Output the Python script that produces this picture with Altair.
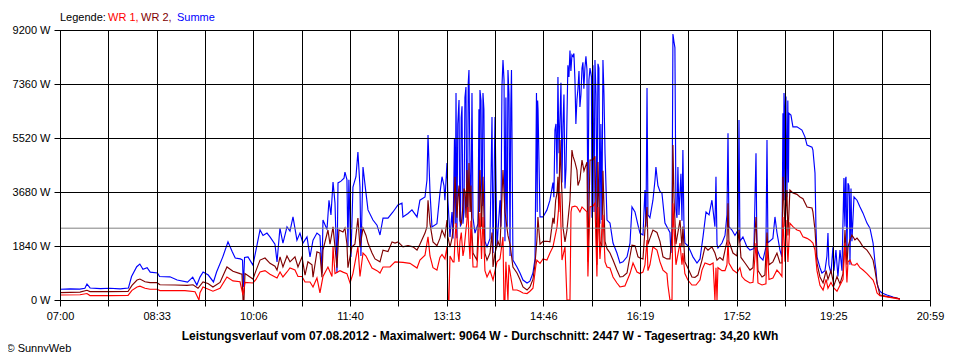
import altair as alt
import pandas as pd

# ---------------- data ----------------
series_names = ["WR 1", "WR 2", "Summe"]
series_colors = ["#ff0000", "#800000", "#0000ff"]
x_labels = ["07:00", "08:33", "10:06", "11:40", "13:13", "14:46", "16:19", "17:52", "19:25", "20:59"]
y_ticks = [0, 1840, 3680, 5520, 7360, 9200]
average_w = 2447
title_text = ("Leistungsverlauf vom 07.08.2012 - Maximalwert: 9064 W - "
              "Durchschnitt: 2447 W - Tagesertrag: 34,20 kWh")
copyright_text = "\u00a9 SunnyWeb"

# (minutes after 07:00, W)
summe = [
(0,365),(10,380),(19,370),(24,400),(26,545),(29,410),(39,390),(48,400),(58,380),(66,410),(69,800),(74,1135),(77,1225),(80,1050),(84,1100),(87,950),(94,920),(96,800),(106,790),(113,680),(123,610),(128,780),(132,510),(135,780),(138,955),(143,850),(148,615),(151,955),(157,1470),(162,1980),(166,1650),(169,1430),(174,1400),(176,1360),(176.8,440),(178,1450),(181.3,1470),(186.1,1190),(189,1700),(192.9,2385),(195.8,2200),(199.6,2280),(202.5,2150),(207.3,1900),(209.3,1300),(212.1,2450),(215,1940),(218.9,2490),(221.8,2350),(224.7,2830),(228.5,2040),(231.4,2280),(234.3,1940),(238.2,2150),(241.1,1470),(244,2040),(247.8,2280),(250.7,2200),(252.6,920),(253.6,2725),(257.5,2400),(259.4,3400),(261.3,2900),(263.3,4020),(265.2,3300),(267.1,920),(268.1,3990),(271,4050),(273.9,4150),(274.8,4360),(276.7,4100),(277.7,1800),(278.6,4100),(280.6,1470),(282.5,3850),(285.4,4200),(287.3,5040),(289.3,3850),(290.2,1500),(292.2,4530),(295.1,3640),(297,3070),(301.8,2725),(305.7,2550),(308.6,2215),(311.5,2790),(316.3,2790),(321.1,3000),(325.9,3240),(329.8,3300),(330.7,2830),(335.6,2950),(339.4,3070),(344.3,2830),(347.1,3400),(352,3510),(353.9,4090),(354.9,5620),(356.8,3700),(358.7,2490),(363.5,2600),(366.4,3640),(368.4,4200),(370.3,3900),(371.2,3400),(373.2,4670),(374.1,3400),(376.1,2150),(378,3000),(379,2100),(381.9,7050),(382.8,2100),(384.8,6815),(386.2,2500),(387.7,6600),(389.6,3000),(391.5,7260),(393,2800),(394.4,7840),(395.4,4350),(397.3,7050),(398.3,2800),(400.2,2280),(403.1,2600),(405,7155),(406.5,4000),(407.9,7050),(409.8,2000),(411.8,1810),(414.7,2100),(416.6,6235),(417.6,1600),(419.5,6235),(421.4,1800),(424.3,3400),(426.2,7260),(427.2,8180),(429.1,2000),(430.6,3400),(432,7840),(434,1500),(435.4,7840),(436.8,1360),(440.7,1125),(443.6,920),(446.5,680),(450.4,580),(453.2,640),(456.1,920),(458.1,1400),(459.5,7050),(461,6500),(462.9,2830),(465.8,2830),(469.6,3070),(472.5,3400),(475.4,4000),(477.3,5790),(479.3,4300),(480.2,7600),(482.2,6200),(484.1,4000),(485,5900),(487,3800),(488.9,6200),(489.8,8000),(491.8,8500),(493.7,8350),(494.7,8300),(496.6,7500),(498.5,6815),(499.5,7200),(501.4,6580),(503.4,7900),(504.3,8100),(506.2,7900),(508.2,7840),(509.1,2500),(511.1,7900),(514,8000),(515.9,8180),(517.8,2725),(518.8,8050),(520.7,2600),(522.6,2725),(523.6,8180),(525.6,5000),(527.5,2725),(530.4,2620),(533.3,1940),(537.1,1600),(540,1260),(542.9,1300),(546.8,1470),(549.7,1940),(551.6,3170),(554.5,3000),(557.4,2555),(559.3,2280),(562.2,2215),(564.1,3750),(565.1,2500),(566.1,7220),(567,2900),(568.9,2800),(571.8,3400),(573.8,4090),(574.7,4530),(576.6,3900),(578.6,3700),(580.5,3640),(583.4,2620),(588.2,2300),(589.2,1600),(590.2,2400),(591.1,9064),(592.1,8800),(593,8600),(594,3100),(595,2800),(595.9,4530),(596.9,2900),(598.8,4300),(599.8,2700),(600.7,5110),(601.7,2600),(602.6,1940),(605.5,1850),(607.5,1700),(610.4,1470),(614.3,1260),(617.2,1400),(620.1,2150),(623,3000),(625.9,2900),(628.7,3400),(631.6,2500),(632.6,4200),(633.6,1900),(634.5,1770),(638.4,1940),(641.3,2200),(643.2,2900),(644.2,5680),(645.1,2500),(648,2385),(650.9,2200),(653.9,2385),(654.8,6130),(655.7,2000),(658.6,2150),(662.5,1810),(665.4,1700),(669.2,1750),(671.2,5000),(672.1,1750),(675,1470),(677.9,1360),(680.8,1800),(681.8,5450),(682.7,1950),(687.5,2100),(689.5,2830),(691.4,2300),(694.3,1700),(696.2,1470),(697.2,6360),(698.2,7050),(699.1,3400),(700.1,6930),(701,3500),(703,6360),(704.9,6300),(706.8,5900),(710.7,5900),(715.5,5790),(718.4,5560),(720.4,5280),(725.2,5210),(726.1,5110),(728.1,4330),(729,2500),(730,1470),(732.9,1100),(734.8,920),(737.7,1000),(739.6,1500),(740.6,2280),(741.5,1200),(743.5,900),(745.4,1800),(746.4,1000),(748.3,1700),(750.2,800),(752.2,1700),(754.1,1000),(756,4160),(757,2500),(758,4200),(758.9,1500),(759.9,3980),(760.8,3900),(761.8,1200),(762.8,3800),(763.7,2000),(765.7,3510),(768.6,3400),(771.5,3170),(774.4,2960),(776.3,2790),(778.2,2620),(781.1,2450),(784.1,1940),(786,1260),(786.9,1020),(787.9,580),(788.9,445),(790.7,300),(792.7,240),(797.5,170),(803.3,100),(810,35)
]
# extra readings inside the densely filled (rapidly switching) stretches
summe_dense = [
(380.4,5500),(381.2,2600),(383.6,6000),(385.5,3000),(386.9,6200),(388.6,2600),(390.5,6900),(392.2,3200),(393.7,7400),(396.3,3000),
(404,6500),(404.5,3000),(406,6800),(407.2,3200),(408.8,6500),
(425.2,2500),(428.2,7500),(430,6900),(431.3,2500),(433,7000),(434.7,6500),
(460.2,3000),(460.6,6800),
(476.3,3500),(478.3,6000),(481.2,5000),(483.1,7400),(486,7000),(488,4500),(490.8,7600),(492.7,7800),(495.6,8400),(497.5,6000),(500.5,7800),(502.4,7000),(505.2,7200),(507.2,8300),(510.1,7500),(512.5,7600),(513,2800),(513.5,7800),(515,3000),(516.9,7000),(519.7,7900),(521.6,6000),(524.6,7000),
(697.7,3500),(698.7,6500),(699.6,5000),(701.9,6800),(702.5,4000),
(756.5,3000),(757.5,4100),(761.3,3500)
]

wr2 = [
(0,250),(19.3,270),(26,330),(28.9,285),(48.2,285),(65.6,290),(69.4,500),(74.3,680),(77.1,715),(82,620),(86.8,590),(93.5,590),(96.4,520),(110.9,510),(122.5,500),(128.3,520),(133.1,400),(137.9,615),(142.7,560),(147.5,440),(154.3,600),(161,1125),(166.8,980),(173.6,900),(175.5,880),(176.5,0),(177.4,0),(178.4,900),(186.1,715),(189,1000),(192.9,1360),(197.7,1430),(202.5,1250),(207.3,1150),(209.3,1020),(212.2,1470),(215,1125),(218.9,1500),(221.8,1300),(226.6,1470),(229.5,1125),(233.4,1470),(236.3,850),(239.1,1300),(243,1200),(244,780),(247.8,1640),(250.7,1600),(252.6,780),(253.6,1700),(258.4,2385),(260.4,1900),(263.3,2490),(265.2,1800),(267.1,1100),(269,2385),(272.9,2320),(274.8,2450),(276.7,1900),(277.7,1100),(281.5,1810),(284.4,1900),(287.3,2790),(289.3,1800),(292.2,2450),(295.1,2200),(297,1940),(300.9,1600),(303.8,1400),(308.6,1300),(311.5,1700),(316.3,1650),(320.2,1980),(323.1,1940),(326,1980),(330.8,1810),(335.6,1850),(340.4,1810),(344.3,1700),(347.1,1900),(352,2280),(353.9,2500),(354.9,3400),(356.8,2600),(359.7,1980),(363.5,1850),(366.4,2100),(368.4,2385),(371.2,2150),(373.2,2725),(374.1,2150),(376.1,1800),(378,2100),(380.9,4200),(382.8,2800),(383.8,3500),(385.7,2700),(388.6,3200),(390.6,3700),(392.5,4430),(393.4,3000),(394.4,4670),(395.4,3000),(397.3,2300),(398.3,1600),(402.1,1360),(405,4430),(406.5,2500),(407.9,4200),(409.8,1600),(411.8,1360),(414.7,1600),(416.6,2300),(417.6,1125),(419.5,1600),(422.4,2000),(424.3,1800),(427.2,4430),(429.1,3000),(432,2200),(434,1900),(436.8,1125),(440.7,920),(443.6,700),(446.5,445),(450.4,340),(453.2,445),(456.1,700),(458,1200),(459.9,2040),(460.9,2830),(462.9,1900),(465.8,2000),(469.6,2000),(472.5,1980),(475.4,2800),(479.3,3640),(482.2,5450),(484.1,3600),(485,2500),(487,1980),(488.9,2385),(491.8,3400),(493.7,5110),(494.7,4900),(496.6,4700),(498.5,4430),(499.5,3900),(501.4,4100),(503.4,4770),(505.3,4400),(508.2,4700),(509.1,1300),(511.1,4770),(514,4770),(515.9,4900),(517.8,1200),(518.8,4700),(520.7,2000),(522.6,1800),(523.6,4400),(525.6,2000),(527.5,1750),(530.4,1600),(533.3,1360),(537.1,1020),(540,785),(542.9,800),(546.8,920),(549.7,1500),(551.6,1870),(554.5,1850),(557.4,1470),(559.3,1430),(562.2,1400),(564.1,2385),(566.1,3170),(567,1900),(568.9,2100),(571.8,2385),(575.7,2300),(578.6,2000),(581.5,1470),(585.3,1400),(588.2,1400),(590.2,2200),(591.1,5280),(592.1,3500),(594,1900),(595.9,2300),(597.9,2725),(599.8,1800),(600.7,2500),(602.6,1300),(605.5,1090),(609.4,785),(612.3,770),(615.2,850),(619.1,1360),(622,1810),(624.9,1700),(628.7,1810),(631.6,1600),(633.6,1360),(636.4,1450),(639.3,1360),(643.2,2000),(644.2,3300),(645.1,2000),(649,1600),(652.8,1500),(654.8,2385),(656.7,1450),(660.6,1260),(665.4,1020),(668.3,1100),(671.2,2830),(673.1,1000),(677,785),(679.8,850),(681.8,2300),(683.7,1200),(687.5,1300),(691.4,1600),(694.3,1260),(696.2,1260),(697.2,4200),(699.1,2500),(701,3750),(702,2200),(703.9,3750),(706.8,3650),(710.7,3600),(713.6,3510),(716.5,3450),(720.4,3170),(725.2,3135),(726.1,3000),(728.1,2385),(730,1260),(732.9,785),(735.9,580),(738.8,1000),(740.6,700),(743.5,1000),(746.4,500),(749.3,800),(752.2,550),(755.1,900),(757,2385),(758.9,1200),(759.9,1800),(761.8,2040),(763.7,2215),(766.6,2050),(768.6,2110),(771.5,1980),(774.4,1810),(778.2,1700),(781.1,1550),(784.1,1360),(786,1000),(787.9,580),(790.7,170),(800.4,100),(807.1,70),(810,30)
]
wr2_dense = [
(379.5,2500),(381.5,3800),(384.8,3900),(387,2600),(389.6,3800),(391.5,2800),(396.3,3900),
(476.5,2600),(478,3400),(480.2,4200),(481,3000),(483,4500)
]

wr1 = [
(0,170),(19.3,180),(26,220),(28.9,150),(48.2,150),(65.6,155),(69.4,330),(74.3,445),(77.1,470),(82,400),(86.8,365),(93.5,365),(96.4,320),(120.5,320),(130.2,280),(134,0),(135,250),(137.9,440),(147.5,300),(154.3,400),(161,785),(166.8,650),(173.6,620),(176.5,170),(178.4,600),(186.1,580),(189,700),(192.9,955),(197.7,1000),(202.5,880),(209.3,750),(212.2,955),(215,785),(218.9,955),(221.8,1090),(226.6,1020),(229.5,800),(233.4,800),(236.3,615),(241.1,615),(244,445),(247.8,750),(250.7,240),(253.6,800),(258.4,1125),(262.3,800),(263.3,1810),(265.2,900),(270,1000),(272.9,950),(276.7,900),(279.7,580),(282.5,900),(287.3,1810),(289.3,800),(292.2,1600),(295.1,1500),(297,1360),(300.9,1090),(305.7,1000),(308.6,920),(311.5,1125),(318.2,1125),(323.1,1300),(330.8,1280),(337.5,1250),(344.3,1090),(347.1,1360),(352,1530),(354.9,2150),(356.8,1500),(359.7,1100),(363.5,1020),(366.4,1450),(368.4,1550),(371.2,1400),(373.2,1810),(374.1,0),(375.1,0),(376.1,1500),(379,1300),(380.9,2040),(381.9,2620),(383.8,1600),(385.7,2000),(388.6,1500),(391.5,2400),(393.4,3170),(395.4,1400),(398.3,1125),(402.1,1125),(405,2960),(406.5,1400),(407.9,2830),(409.8,1000),(411.8,785),(414.7,1000),(417.6,680),(421.4,1300),(424.3,1400),(427.2,2150),(428.1,0),(429.1,0),(430,1300),(432,0),(432.9,1200),(436.8,340),(440.7,340),(443.6,300),(446.5,240),(450.4,220),(453.2,300),(456.1,400),(459,1200),(459.9,1360),(462.9,1250),(465.8,1400),(469.6,1360),(472.5,1600),(475.4,1810),(479.3,2490),(482.2,3640),(484.1,1360),(487,1810),(488.9,0),(491.8,0),(492.8,3000),(493.7,3170),(496.6,3200),(498.5,3170),(501.4,3000),(503.4,3170),(506.2,3070),(508.2,3000),(509.1,800),(511.1,3170),(514,3200),(515.9,3300),(517.8,800),(518.8,3170),(520.7,1400),(523.6,2900),(525.6,1300),(527.5,1125),(530.4,1090),(533.3,785),(537.1,580),(540,445),(544.8,480),(549.7,900),(552.6,1260),(556.4,955),(559.3,900),(562.2,950),(564.1,1200),(566.1,2040),(567,1000),(568.9,1200),(571.8,1810),(575.7,1700),(578.6,1300),(581.5,1020),(585.3,900),(586.3,500),(588.2,0),(590.2,0),(591.1,3300),(592.1,2500),(594,1200),(597.9,1940),(599.8,1200),(600.7,1600),(602.6,900),(605.5,680),(609.4,511),(613.3,511),(617.2,680),(619.1,1020),(622,1260),(626.8,1200),(629.8,1260),(631.6,0),(632.6,1100),(633.6,0),(634.5,1100),(638.4,1000),(641.3,1000),(643.2,1200),(644.2,2040),(645.1,1260),(649,1020),(652.8,920),(655.7,1100),(657.6,800),(660.6,680),(665.4,580),(668.3,600),(671.2,1940),(673.1,580),(677,511),(680.8,550),(681.8,1940),(683.7,700),(687.5,750),(691.4,1020),(694.3,900),(696.2,800),(697.2,2830),(699.1,1300),(700.1,2725),(702,1300),(703.9,2620),(706.8,2500),(710.7,2385),(713.6,2350),(716.5,2150),(720.4,2100),(723.3,2040),(726.1,1940),(728.1,1700),(730,1000),(732.9,500),(735.9,340),(738.8,700),(740.6,400),(743.5,600),(746.4,400),(749.3,300),(752.2,500),(755.1,700),(757,1940),(758.9,600),(759.9,1300),(761.8,1360),(763.7,1200),(766.6,1190),(768.6,1250),(771.5,1100),(774.4,1020),(778.2,900),(781.1,785),(784.1,680),(786,500),(787.9,240),(790.7,150),(800.4,90),(810,30)
]
wr1_dense = [
(380,1300),(382.8,2200),(384.8,1300),(387,2300),(389.6,1700),(392.2,2600),(394.4,2000),(396.3,2700)
]

# ---------------- chart ----------------
FONT = "Liberation Sans"
span = 839.0                      # 07:00 .. 20:59 in minutes
step = span / 18
tick_vals = [round(i * step, 4) for i in range(19)]
tick_text = [x_labels[i // 2] if i % 2 == 0 else "" for i in range(19)]
label_expr = "[" + ",".join("'%s'" % s for s in tick_text) + "][round(datum.value / %.6f)]" % step


def frame(points, extra):
    df = pd.DataFrame(points + extra, columns=["t", "w"])
    return df.sort_values("t").reset_index(drop=True)


axis_common = dict(
    grid=True, gridColor="black", gridOpacity=1, gridWidth=1,
    domainColor="black", domainWidth=1, tickColor="black", tickWidth=1, tickSize=6,
    labelColor="black", labelFont=FONT, labelFontSize=11,
    labelOverlap=False, zindex=1,
)

x_enc = alt.X("t:Q", title=None,
              scale=alt.Scale(domain=[0, span], nice=False, zero=False),
              axis=alt.Axis(values=tick_vals, labelExpr=label_expr, labelFlush=False,
                            labelPadding=4, **axis_common))
y_enc = alt.Y("w:Q", title=None,
              scale=alt.Scale(domain=[0, 9200], nice=False),
              axis=alt.Axis(values=y_ticks, labelExpr="datum.value + ' W'",
                            labelPadding=4, **axis_common))


def line(points, extra, color):
    return alt.Chart(frame(points, extra)).mark_line(
        color=color, strokeWidth=1.15, clip=True).encode(
        x=x_enc, y=y_enc, order="t:Q")


layers = [
    line(summe, summe_dense, series_colors[2]),
    line(wr2, wr2_dense, series_colors[1]),
    line(wr1, wr1_dense, series_colors[0]),
    alt.Chart(pd.DataFrame({"w": [average_w]})).mark_rule(color="#808080", strokeWidth=1).encode(y="w:Q"),
]


def text_layer(txt, color, x, y, bold=False, align="left", size=11):
    return alt.Chart(pd.DataFrame({"label": [txt]})).mark_text(
        align=align, baseline="alphabetic", font=FONT, fontSize=size,
        fontWeight="bold" if bold else "normal", color=color,
    ).encode(text="label:N", x=alt.value(x), y=alt.value(y))


layers += [
    text_layer("Legende:", "black", 0, -9.5),
    text_layer(series_names[0] + ",", series_colors[0], 48, -9.5),
    text_layer(series_names[1] + ",", series_colors[1], 81, -9.5),
    text_layer(series_names[2], series_colors[2], 117, -9.5),
    text_layer(title_text, "black", 420, 309.5, bold=True, align="center", size=12),
    text_layer(copyright_text, "black", -53.5, 321.5),
]

chart = alt.layer(*layers).properties(
    width=870, height=270,
    autosize=alt.AutoSizeParams(type="none"),
    padding={"left": 52, "top": 22, "right": 20, "bottom": 52},
    background="white",
).configure_view(stroke="black", strokeWidth=1)

chart.save("out.html", embed_options={"renderer": "svg", "actions": False})
